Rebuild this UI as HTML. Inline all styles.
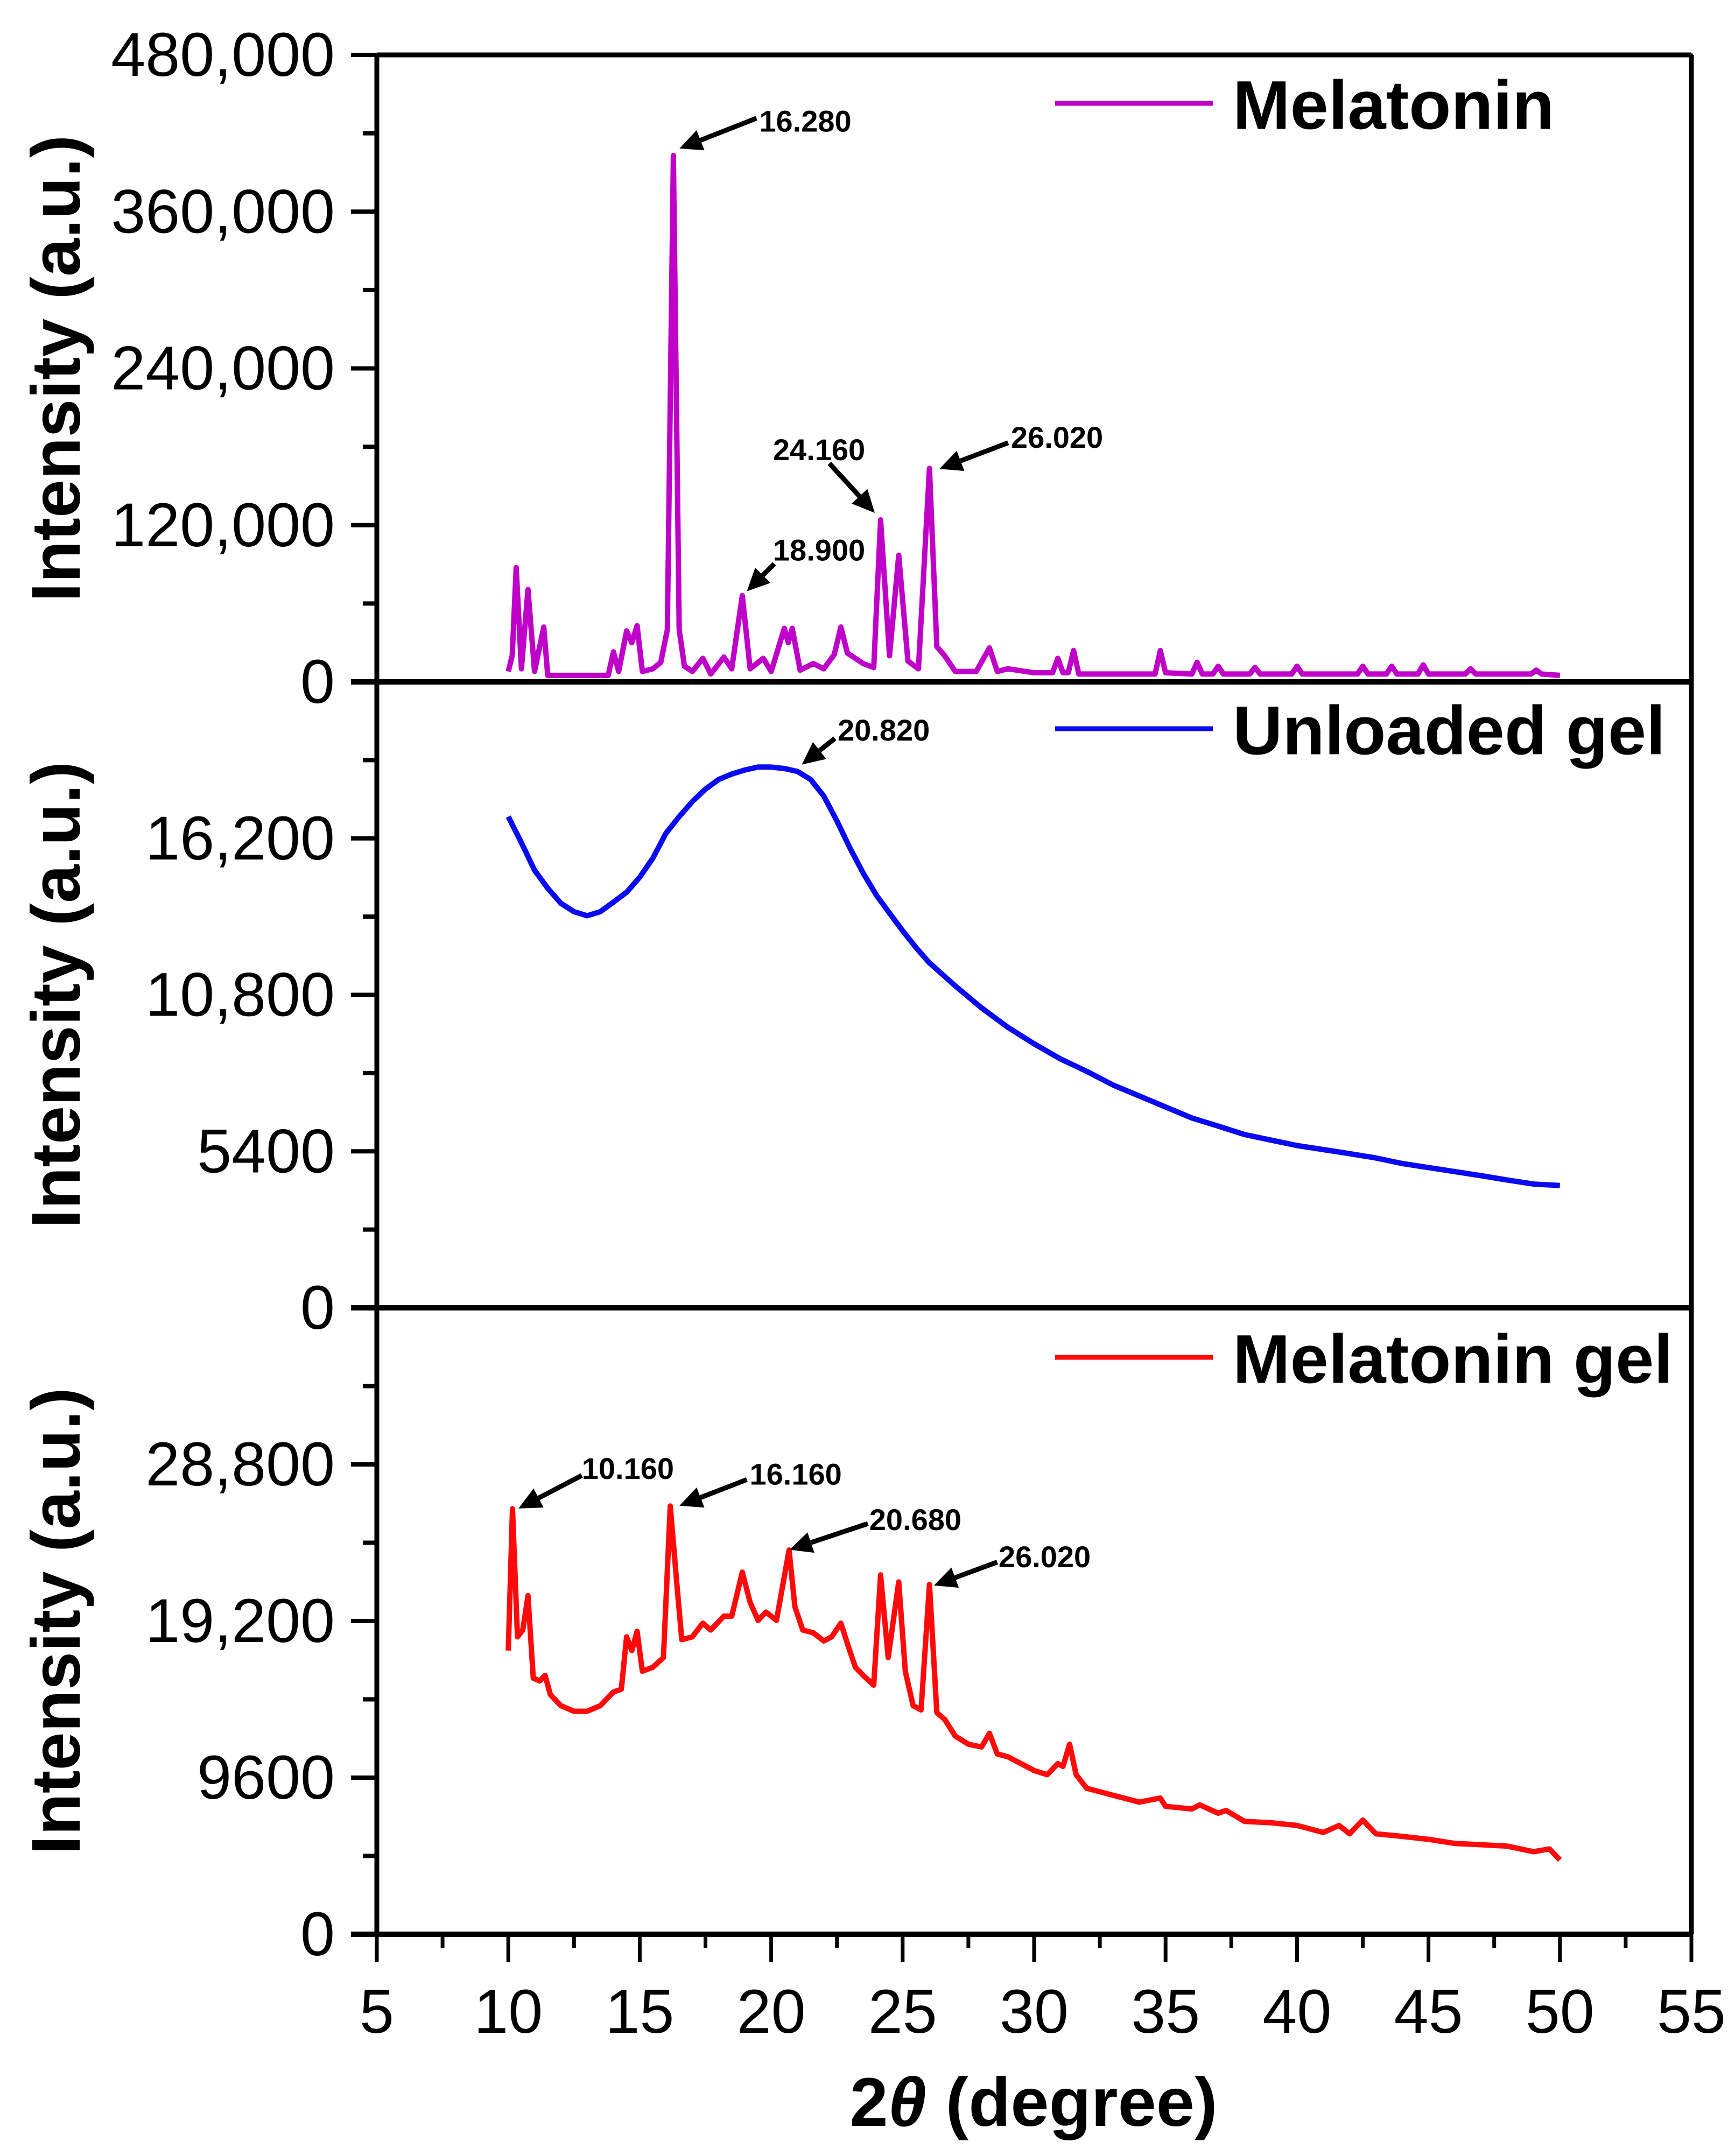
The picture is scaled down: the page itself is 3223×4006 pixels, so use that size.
<!DOCTYPE html>
<html><head><meta charset="utf-8"><style>
html,body{margin:0;padding:0;background:#fff;}
svg{display:block;font-family:"Liberation Sans",sans-serif;}
</style></head><body>
<svg id="chart" width="3223" height="4006" viewBox="0 0 3223 4006" xmlns="http://www.w3.org/2000/svg">
<rect width="3223" height="4006" fill="#fff"/>
<g id="plots"></g>
<g id="axes"></g>
<g id="ann"></g>
<text x="1920" y="3950" text-anchor="middle" font-size="128" font-weight="bold">2<tspan font-style="italic">θ</tspan> (degree)</text>
</svg>
<script>
// ---- data ----
const xTicks = [5,10,15,20,25,30,35,40,45,50,55];
const melTheta = [10,10.15,10.3,10.5,10.75,11,11.35,11.5,12,13,13.8,14,14.2,14.5,14.7,14.9,15.1,15.5,15.8,16.05,16.28,16.5,16.7,17,17.4,17.7,18.2,18.5,18.9,19.2,19.7,20,20.5,20.65,20.8,21.1,21.6,22,22.4,22.65,22.9,23.5,23.9,24.16,24.5,24.85,25.2,25.6,26.02,26.3,26.6,27,27.8,28.3,28.6,29,30,30.7,30.9,31.1,31.3,31.5,31.7,33,34.6,34.8,35.0,36.0,36.2,36.4,36.8,37,37.2,38.2,38.4,38.6,39.8,40,40.2,42.3,42.5,42.7,43.4,43.6,43.8,44.6,44.8,45.0,46.4,46.6,46.8,48.9,49.1,49.3,50];
const melValue = [8000,20000,87500,10000,70700,8000,42000,5000,5000,5000,5000,23000,8000,39000,30000,43000,8000,10000,15000,40000,403000,40000,12000,8000,18000,6000,19000,10000,66000,10000,18000,8000,41000,30000,41000,9000,14000,10000,21000,42000,22000,14000,11000,124000,20000,97000,16000,10000,163500,27000,20000,8000,8000,26000,8000,10000,7000,7000,18000,7000,7000,24000,6000,6000,6000,24000,7000,6000,15000,6000,6000,12000,6000,6000,11000,6000,6000,12000,6000,6000,12000,6000,6000,12000,6000,6000,13000,6000,6000,10000,6000,6000,9000,6000,5000];
const gelTheta = [10,10.5,11,11.5,12,12.5,13,13.5,14,14.5,15,15.5,16,16.5,17,17.5,18,18.5,19,19.5,20,20.5,21,21.5,22,22.5,23,23.5,24,24.5,25,25.5,26,27,28,29,30,31,32,33,34,35,36,37,38,39,40,41,42,43,44,45,46,47,48,49,50];
const gelValue = [16950,16050,15100,14480,13960,13670,13530,13670,14000,14340,14860,15520,16380,16950,17470,17900,18230,18420,18560,18660,18660,18610,18510,18230,17660,16800,15860,15000,14240,13620,13010,12440,11920,11110,10350,9680,9110,8590,8160,7690,7310,6930,6550,6270,5980,5790,5600,5460,5320,5170,4980,4840,4700,4560,4410,4270,4220];
const mgTheta = [10,10.16,10.35,10.55,10.75,10.95,11.2,11.4,11.6,12,12.5,13,13.5,14,14.3,14.5,14.7,14.9,15.1,15.5,15.9,16.16,16.45,16.6,17,17.4,17.7,18.2,18.5,18.9,19.2,19.5,19.8,20.2,20.68,20.9,21.2,21.6,22,22.3,22.65,22.9,23.2,23.5,23.9,24.16,24.45,24.85,25.1,25.4,25.7,26.02,26.3,26.6,27,27.5,28,28.3,28.6,29,29.5,30,30.5,30.9,31.1,31.35,31.6,32,33,34,34.8,35,36,36.3,37,37.3,38,39,40,41,41.6,42,42.5,43,44,45,46,47,48,49,49.6,50];
const mgValue = [17390,26080,18230,18650,20760,15700,15530,15870,14690,14010,13670,13670,14010,14850,15020,18230,17390,18570,16120,16370,16960,26250,20760,18060,18230,19070,18650,19500,19500,22200,20340,19240,19750,19240,23550,20080,18650,18480,17980,18230,19070,17810,16370,15870,15270,22030,16960,21600,16120,14010,13750,21440,13590,13170,12150,11650,11480,12320,11050,10880,10460,10040,9780,10460,10290,11650,9780,8950,8520,8100,8350,7840,7680,7930,7420,7590,6920,6840,6670,6240,6670,6160,7000,6160,6000,5820,5570,5490,5400,5060,5230,4560];
const yTicksTop = ["0","120,000","240,000","360,000","480,000"];
const yTicksMid = ["0","5400","10,800","16,200"];
const yTicksBot = ["0","9600","19,200","28,800"];
const yMaxTop = 480000, yMaxMid = 21600, yMaxBot = 38400;

// ---- layout ----
const NS="http://www.w3.org/2000/svg";
const X0=700, X1=3142;
const panels=[{top:102,bot:1267},{top:1267,bot:2430},{top:2430,bot:3594}];
const xs = t => X0 + (t-5)/(55-5)*(X1-X0);
function ys(p,max){return v => panels[p].bot - v/max*(panels[p].bot-panels[p].top);}
function mk(tag,attrs,parent){const e=document.createElementNS(NS,tag);for(const k in attrs)e.setAttribute(k,attrs[k]);parent.appendChild(e);return e;}
const plots=document.getElementById('plots'), axes=document.getElementById('axes'), ann=document.getElementById('ann');

function series(p,th,val,max,color,name){
  const y=ys(p,max);
  const pts=th.map((t,i)=>xs(t).toFixed(1)+','+y(val[i]).toFixed(1)).join(' ');
  const pl=mk('polyline',{points:pts,fill:'none',stroke:color,'stroke-width':10,'stroke-linejoin':'round'},plots);
  
  
}
series(0,melTheta,melValue,yMaxTop,'#BF00C8','melatonin-line');
series(1,gelTheta,gelValue,yMaxMid,'#0A0AF0','unloaded-gel-line');
series(2,mgTheta,mgValue,yMaxBot,'#FF0A0A','melatonin-gel-line');

// frames
panels.forEach((pn,i)=>{
  const r=mk('rect',{x:X0,y:pn.top,width:X1-X0,height:pn.bot-pn.top,fill:'none',stroke:'#000','stroke-width':5},axes);
  
  
  const b=mk('line',{x1:X0-48,x2:X1,y1:pn.bot,y2:pn.bot,stroke:'#000','stroke-width':10},axes);
  
  
});
mk('line',{x1:X0,x2:X1,y1:102,y2:102,stroke:'#000','stroke-width':9},axes);
mk('line',{x1:X0,x2:X0,y1:102,y2:3594,stroke:'#000','stroke-width':9},axes);
mk('line',{x1:X1,x2:X1,y1:102,y2:3594,stroke:'#000','stroke-width':9},axes);

// y ticks
function yAxis(p,labels,max,step){
  const y=ys(p,max);
  for(let v=0; v<=max+1; v+=step/2){
    const major = Math.round(v/step*2)%2===0;
    if(v===0) continue;
    mk('line',{x1:X0-(major?48:26),x2:X0,y1:y(v),y2:y(v),stroke:'#000','stroke-width':8},axes);
  }
  labels.forEach((l,i)=>{
    const t=mk('text',{x:622,y:y(i*step),'text-anchor':'end','dominant-baseline':'central','font-size':115},axes);
    t.textContent=l;
    
    
  });
  const cy=(panels[p].top+panels[p].bot)/2;
  const tt=mk('text',{x:0,y:0,transform:`translate(148,${cy}) rotate(-90)`,'text-anchor':'middle','font-size':128,'font-weight':'bold'},axes);
  tt.textContent='Intensity (a.u.)';
  
  
}
yAxis(0,yTicksTop,yMaxTop,120000);
yAxis(1,yTicksMid,yMaxMid,5400);
yAxis(2,yTicksBot,yMaxBot,9600);

// x ticks
xTicks.forEach((t,i)=>{
  mk('line',{x1:xs(t),x2:xs(t),y1:3594,y2:3646,stroke:'#000','stroke-width':7},axes);
  if(i<xTicks.length-1) mk('line',{x1:xs(t+2.5),x2:xs(t+2.5),y1:3594,y2:3620,stroke:'#000','stroke-width':7},axes);
  const tx=mk('text',{x:xs(t),y:3738,'text-anchor':'middle','dominant-baseline':'central','font-size':115},axes);
  tx.textContent=t;
  
  
});

// legends
[['Melatonin','#BF00C8',192],['Unloaded gel','#0A0AF0',1354],['Melatonin gel','#FF0A0A',2522]].forEach(([n,c,y])=>{
  const g=mk('g',{},axes);
  
  
  mk('line',{x1:1960,x2:2253,y1:y,y2:y,stroke:c,'stroke-width':9},g);
  const t=mk('text',{x:2290,y:y+4,'dominant-baseline':'central','font-size':128,'font-weight':'bold'},g);
  t.textContent=n;
});

// annotations (display coords *2.555)
const S=2.555;
const notes=[["16.280",552,88,550,86,494,108],["24.160",562,327,603,337,636,373],["18.900",562,400,563,410,543,430],["26.020",735,318,733,322,683,341],
["20.820",609,531,607,537,583,556],["10.160",423,1068,423,1073,377,1097],["16.160",545,1072,543,1076,494,1095],["20.680",632,1105,631,1108,574,1127],["26.020",726,1132,725,1136,679,1153]];
notes.forEach(n=>{
  const g=mk('g',{},ann);
  
  
  const t=mk('text',{x:n[1]*S,y:n[2]*S,'dominant-baseline':'central','font-size':56,'font-weight':'bold'},g);
  t.textContent=n[0];
  const x1=n[3]*S,y1=n[4]*S,x2=n[5]*S,y2=n[6]*S;
  const dx=x2-x1,dy=y2-y1,L=Math.hypot(dx,dy),ux=dx/L,uy=dy/L;
  const hl=42,hw=20;
  const bx=x2-ux*hl,by=y2-uy*hl;
  mk('line',{x1:x1,y1:y1,x2:bx,y2:by,stroke:'#000','stroke-width':9},g);
  mk('polygon',{points:`${x2},${y2} ${bx-uy*hw},${by+ux*hw} ${bx+uy*hw},${by-ux*hw}`,fill:'#000'},g);
});
</script>
</body></html>
